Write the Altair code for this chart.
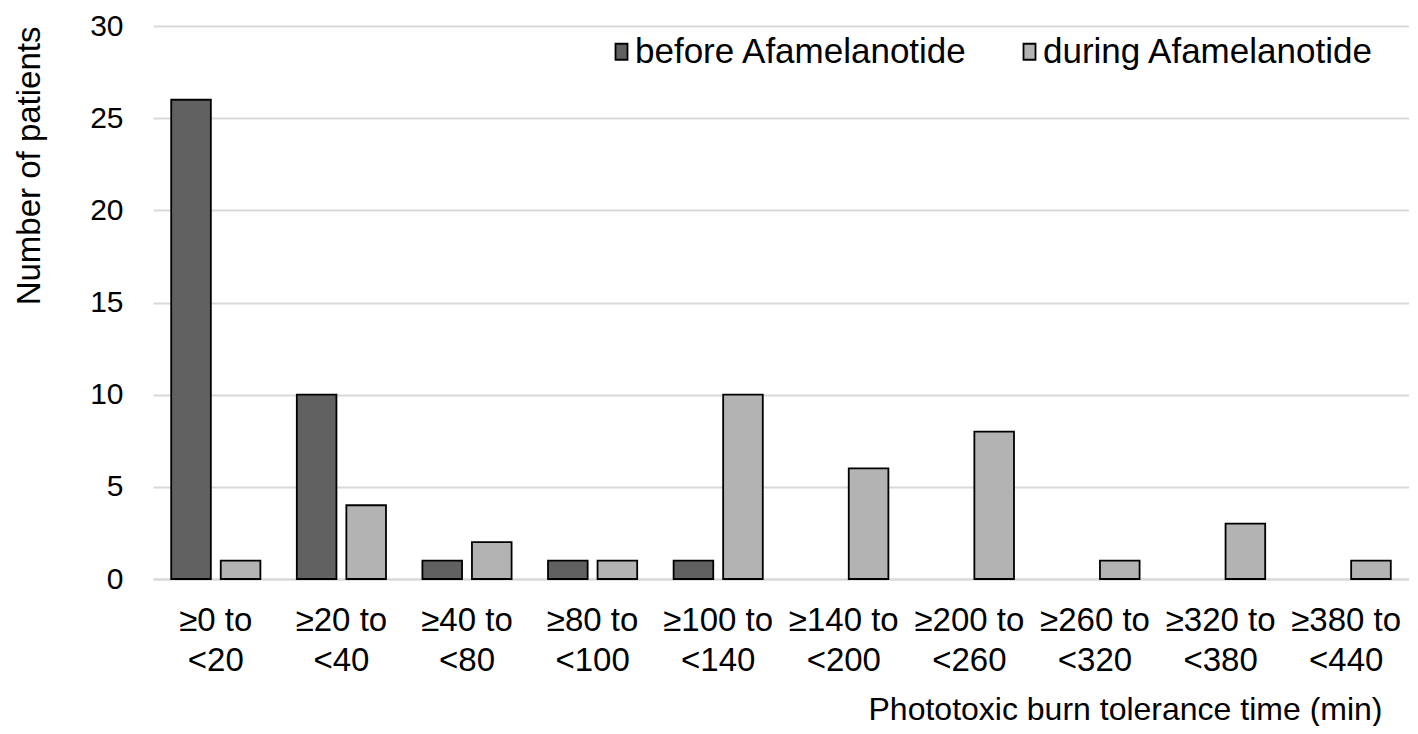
import altair as alt
import pandas as pd

categories = ["≥0 to <20", "≥20 to <40", "≥40 to <80", "≥80 to <100", "≥100 to <140",
              "≥140 to <200", "≥200 to <260", "≥260 to <320", "≥320 to <380", "≥380 to <440"]
before = [26, 10, 1, 1, 1, 0, 0, 0, 0, 0]
during = [1, 4, 2, 1, 10, 6, 8, 1, 3, 1]
series = ["before Afamelanotide", "during Afamelanotide"]
colors = ["#616161", "#b3b3b3"]

rows = []
for c, b, d in zip(categories, before, during):
    rows.append({"cat": c, "series": series[0], "count": b})
    rows.append({"cat": c, "series": series[1], "count": d})
df = pd.DataFrame(rows)

FONT = "Liberation Sans"
W, H = 1256, 553

chart = alt.Chart(df).transform_filter("datum.count > 0").mark_bar(
    stroke="black", strokeWidth=1.8
).encode(
    x=alt.X("cat:N", sort=categories,
            scale=alt.Scale(paddingInner=0.29, paddingOuter=0.145),
            axis=alt.Axis(
                title="Phototoxic burn tolerance time (min)",
                titleX=W - 27, titleY=140, titleAlign="right", titleBaseline="alphabetic",
                titleFontSize=32, titleFontWeight="normal",
                titleFont=FONT, titleColor="black",
                labelAngle=0, labelFontSize=33, labelFont=FONT, labelColor="black",
                labelPadding=25, labelLineHeight=40,
                labelExpr="[slice(datum.label, 0, indexof(datum.label, ' <')), slice(datum.label, indexof(datum.label, ' <') + 1)]",
                ticks=False, domainColor="#d9d9d9", domainWidth=2,
            )),
    xOffset=alt.XOffset("series:N", sort=series,
                        scale=alt.Scale(paddingInner=0.2, paddingOuter=0)),
    y=alt.Y("count:Q", scale=alt.Scale(domain=[0, 30]),
            axis=alt.Axis(
                title="Number of patients", titleAnchor="end", titleFontSize=33,
                titleFont=FONT, titleFontWeight="normal", titleColor="black",
                titlePadding=43,
                values=[0, 5, 10, 15, 20, 25, 30], labelFontSize=30, labelFont=FONT,
                labelColor="black", labelPadding=30, ticks=False, domain=False,
                gridColor="#d9d9d9", gridWidth=2,
            )),
    color=alt.Color("series:N", sort=series,
                    scale=alt.Scale(domain=series, range=colors),
                    legend=alt.Legend(
                        title=None, orient="none", direction="horizontal",
                        legendX=447, legendY=8,
                        symbolType="M-0.25,-1H1.25V1H-0.25Z", symbolSize=256,
                        symbolStrokeColor="black", symbolStrokeWidth=1.8,
                        labelFontSize=35, labelFont=FONT, labelColor="black",
                        labelOffset=0, columnPadding=40, labelLimit=600,
                    )),
).properties(
    width=W, height=H,
    autosize=alt.AutoSizeParams(type="none"),
    padding={"left": 145, "top": 18, "right": 0, "bottom": 147},
).configure_view(stroke=None)

chart.save("out.html", embed_options={"renderer": "svg", "actions": False})
